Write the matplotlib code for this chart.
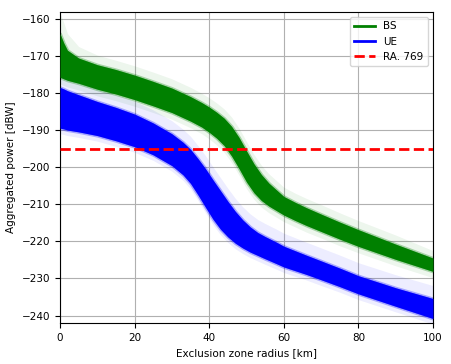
import matplotlib
matplotlib.use("Agg")
import matplotlib.pyplot as plt
from matplotlib.lines import Line2D

# BS (base station) aggregated power vs exclusion zone radius: dense core band and faint spread
bs_radius = [0, 1, 2, 5, 10, 15, 20, 25, 30, 35, 38, 40, 42, 44, 46, 48, 50, 52, 54, 56, 58,
             60, 63, 66, 70, 75, 80, 90, 100]
bs_core_low = [-175.8, -176.2, -176.6, -177.4, -179, -180.3, -181.8, -183.5, -185.3, -187.6, -189.2,
               -190.6, -192.2, -194.2, -197, -200.4, -204, -206.9, -209, -210.5, -211.7,
               -212.9, -214.35, -215.7, -217.35, -219.4, -221.35, -224.85, -228.1]
bs_core_high = [-164, -166.5, -168.5, -170.6, -172.4, -173.7, -175.2, -176.9, -178.7, -181, -182.6,
                -183.8, -185.2, -186.8, -189, -192, -195.6, -199.1, -202, -204.3, -206.1,
                -207.9, -209.45, -210.9, -212.65, -214.8, -216.85, -220.75, -224.5]
bs_faint_low = [-177.6, -178, -178.4, -179.2, -180.8, -182.1, -183.6, -185.3, -187.1, -189.4, -191,
                -192.4, -194, -196, -198.8, -202.2, -205.8, -208.7, -210.8, -212.3, -213.5,
                -214.7, -216.1, -217.5, -219.1, -221.2, -223.1, -226.6, -229.8]
bs_faint_high = [-158.5, -161, -164, -167.5, -169.8, -171.2, -172.7, -174.4, -176.2, -178.5, -180.1,
                 -181.3, -182.7, -184.3, -186.5, -189.5, -193.1, -196.6, -199.5, -201.8, -203.6,
                 -205.4, -207, -208.4, -210.1, -212.3, -214.4, -218.3, -222.5]

# UE (user equipment) aggregated power
ue_radius = [0, 1, 2, 5, 10, 15, 20, 25, 30, 33, 35, 37, 39, 41, 43, 45, 47, 49, 51, 53, 55, 58,
             60, 63, 66, 70, 75, 80, 90, 100]
ue_core_low = [-189.5, -189.7, -190, -190.5, -191.5, -192.9, -194.5, -196.7, -199.6, -202.1, -204.4,
               -207.5, -210.8, -214, -216.7, -218.8, -220.5, -221.8, -222.9, -223.8, -224.7, -226,
               -226.9, -227.9, -228.9, -230.35, -232.2, -234.15, -237.5, -240.8]
ue_core_high = [-178.5, -178.9, -179.4, -180.5, -182.3, -183.9, -185.7, -188.1, -191, -193.3, -195.2,
                -197.7, -200.4, -203.4, -206.3, -209.2, -211.9, -214.2, -216.1, -217.6, -218.7, -220.2,
                -221.3, -222.5, -223.7, -225.25, -227.2, -229.25, -232.5, -235.4]
ue_faint_low = [-191, -191.2, -191.5, -192, -193, -194.4, -196, -198.2, -201.1, -203.6, -205.9,
                -209, -212.3, -215.5, -218.2, -220.3, -222, -223.3, -224.4, -225.3, -226.2, -227.5,
                -228.4, -229.4, -230.4, -231.9, -233.7, -235.7, -239, -242.3]
ue_faint_high = [-174.5, -175, -175.5, -177, -179, -180.5, -182.2, -184.6, -187.5, -189.8, -191.7,
                 -194.2, -196.9, -199.9, -202.8, -205.7, -208.4, -210.7, -212.6, -214.1, -215.2, -216.7,
                 -217.8, -219, -220.2, -221.75, -223.7, -225.75, -229, -231.9]

ra769_limit = -195

fs = 7.5
fig = plt.figure(figsize=(4.52, 3.64), dpi=100)
ax = fig.add_axes([0.1327, 0.1126, 0.8253, 0.8544])

series = [(bs_radius, bs_core_low, bs_core_high, bs_faint_low, bs_faint_high, "green"),
          (ue_radius, ue_core_low, ue_core_high, ue_faint_low, ue_faint_high, "blue")]
for xs, lo, hi, fl, fh, col in series:
    ax.fill_between(xs, fl, fh, color=col, alpha=0.07, lw=0, zorder=2)
    ax.fill_between(xs, lo, hi, color=col, alpha=0.3, lw=2.2, edgecolor=col, zorder=2.5)
    ax.fill_between(xs, lo, hi, color=col, alpha=1.0, lw=0, zorder=3)

ax.axhline(ra769_limit, color="red", ls="--", lw=2, zorder=4)

ax.set_xlim(0, 100)
ax.set_ylim(-242, -158.2)
ax.set_xticks(range(0, 101, 20))
ax.set_yticks(range(-240, -159, 10))
ax.grid(True, color="#b0b0b0", lw=0.8, zorder=0)
ax.set_axisbelow(True)
ax.tick_params(labelsize=fs)
ax.set_xlabel("Exclusion zone radius [km]", fontsize=fs)
ax.set_ylabel("Aggregated power [dBW]", fontsize=fs)

handles = [Line2D([], [], color="green", lw=2),
           Line2D([], [], color="blue", lw=2),
           Line2D([], [], color="red", lw=2, ls="--")]
ax.legend(handles, ["BS", "UE", "RA. 769"], loc="upper right", fontsize=fs)

fig.savefig("out.png", dpi=100)
